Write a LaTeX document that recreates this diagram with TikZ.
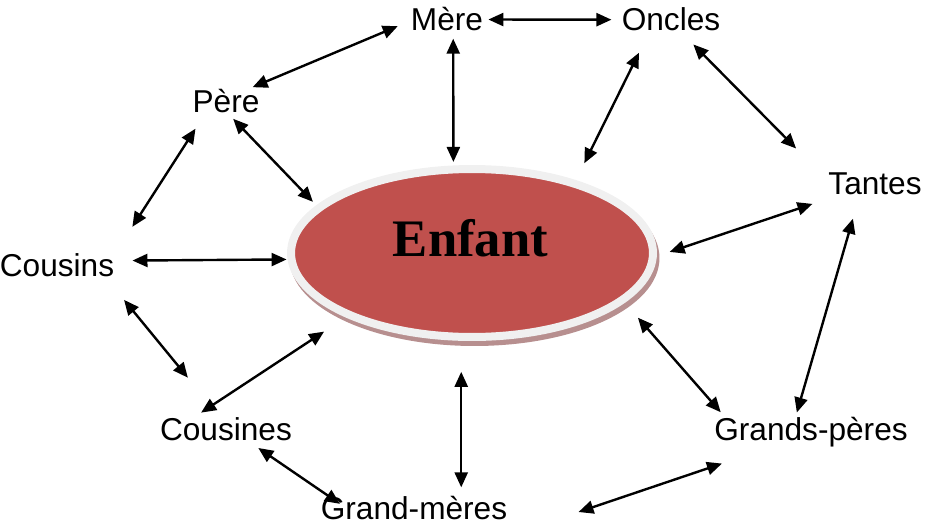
\documentclass[tikz,border=0pt]{standalone}
\usepackage{fontspec}
\setmainfont{Liberation Sans}
\newfontfamily\enfantfont{Liberation Serif}
\usetikzlibrary{arrows.meta,calc,shapes.geometric}
\definecolor{rougeenfant}{RGB}{192,80,77}
\definecolor{anneau}{RGB}{240,240,240}
\definecolor{ombre}{RGB}{183,143,143}
\tikzset{
	membre/.style={inner sep=0pt, anchor=base, font=\fontsize{18}{21}\selectfont},
	fleche/.style={<->, >={Triangle[length=0.3cm,width=0.26cm]}, line width=0.048cm},
	enfant/.style={ellipse, minimum width=7.24cm, minimum height=3.36cm,
			fill=rougeenfant, draw=anneau, line width=0.16cm,
			preaction={draw=ombre, fill=ombre, transform canvas={shift={(0.05cm,-0.1cm)}}}}
}

\begin{document}
\begin{tikzpicture}[x=0.02cm, y=-0.02cm]
        \useasboundingbox (0,0) rectangle (925,524);
        \node[enfant] (enfant) at (472,253) {};
        \node[inner sep=0pt, anchor=base, font=\enfantfont\bfseries\fontsize{30}{34}\selectfont] (enfanttxt) at (470.5,256) {Enfant};
        \node[membre] (mere) at (447,31) {Mère};
        \node[membre] (oncles) at (671,31) {Oncles};
        \node[membre] (pere) at (226,112) {Père};
        \node[membre] (tantes) at (875,194) {Tantes};
        \node[membre] (cousins) at (57,276) {Cousins};
        \node[membre] (cousines) at (226,440) {Cousines};
        \node[membre] (gperes) at (811,440) {Grands-pères};
        \node[membre] (gmeres) at (414,519) {Grand-mères};
        \draw[fleche, shorten <=0.28cm, shorten >=0.06cm] (mere.182) -- (pere.27);
        \draw[fleche, shorten <=0.1cm, shorten >=0.2cm] (mere.east) -- (oncles.west);
        \draw[fleche, shorten <=0.14cm, shorten >=0.07cm] (mere.297.6) -- (enfant.102.3);
        \draw[fleche, shorten <=0.47cm, shorten >=0.38cm] (oncles.209.7) -- (enfant.35.6);
        \draw[fleche, shorten <=0.36cm, shorten >=0.91cm] (oncles.309) -- (tantes.177.7);
        \draw[fleche, shorten <=0.38cm, shorten >=0.66cm] (pere.211.9) -- (cousins.10);
        \draw[fleche, shorten <=0.17cm, shorten >=0.1cm] (pere.276.4) -- (enfant.163);
        \draw[fleche, shorten <=0.58cm, shorten >=0.27cm] (tantes.198.4) -- (enfant.359.6);
        \draw[fleche, shorten <=0.36cm, shorten >=0.02cm] (cousins.4.5) -- (enfant.182.2);
        \draw[fleche, shorten <=0.6cm, shorten >=1.01cm] (cousins.346.3) -- (cousines.117.6);
        \draw[fleche, shorten <=0.15cm, shorten >=0.52cm] (cousines.159.1) -- (enfant.207.3);
        \draw[fleche, shorten <=0.5cm, shorten >=0.08cm] (tantes.217.3) -- (gperes.135.8);
        \draw[fleche, shorten <=0.4cm, shorten >=0.11cm] (enfant.342.3) -- (gperes.170);
        \draw[fleche, shorten <=0.62cm, shorten >=0.16cm] (enfant.263.5) -- (enfant.263.5 |- gmeres.north);
        \draw[fleche, shorten <=0.26cm, shorten >=-0.3cm] (cousines.331.9) -- (gmeres.172.8);
        \draw[fleche, shorten >=1.04cm] ($(gmeres.east)+(71,4.5)$) -- (gperes.201.9);
    \end{tikzpicture}
\end{document}
